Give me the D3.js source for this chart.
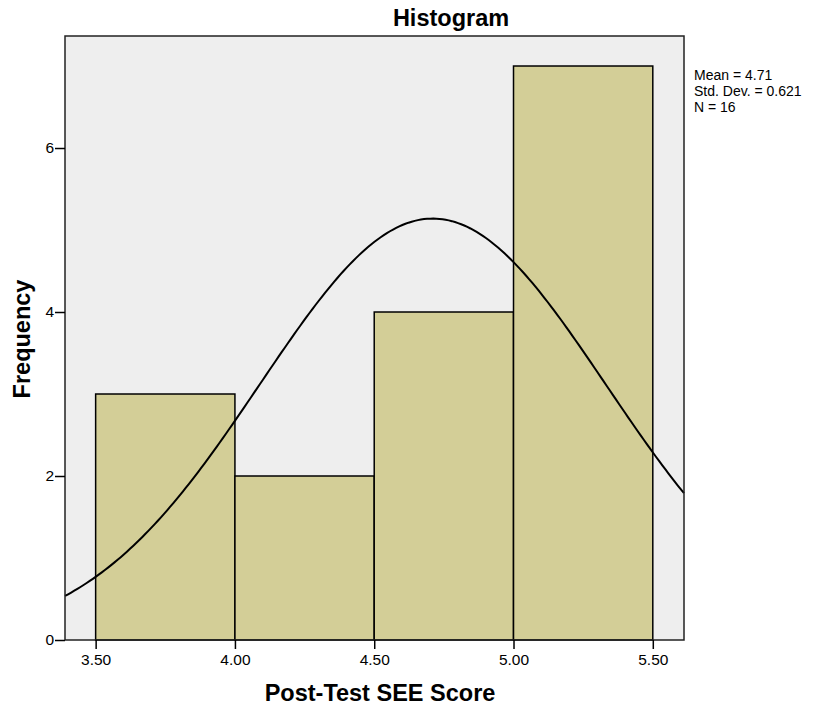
<!DOCTYPE html>
<html>
<head>
<meta charset="utf-8">
<script src="https://cdn.jsdelivr.net/npm/d3@7"></script>
<style>
  body { margin: 0; background: #fff; }
  text { font-family: "Liberation Sans", Arial, sans-serif; }
</style>
</head>
<body>
<div id="chart"></div>
<script>
// bins of the histogram
var binStarts = [3.5, 4.0, 4.5, 5.0]
var binWidth = 0.5
var counts = [3, 2, 4, 7]

var xTicks = [3.5, 4.0, 4.5, 5.0, 5.5]
var yTicks = [0, 2, 4, 6]

// summary stats shown at right
var mean = 4.71
var stdDev = 0.621
var n = 16

var margin = { top: 36, left: 65, right: 133, bottom: 67 }
var width = 817 - margin.left - margin.right
var height = 707 - margin.top - margin.bottom

var svg = d3
  .select('#chart')
  .append('svg')
  .attr('width', 817)
  .attr('height', 707)

var g = svg
  .append('g')
  .attr('transform', 'translate(' + margin.left + ',' + margin.top + ')')

var xPositionScale = d3.scaleLinear().domain([3.39, 5.612]).range([0, width])
var yPositionScale = d3.scaleLinear().domain([0, 7.366]).range([height, 0])

// plot background
g.append('rect')
  .attr('width', width)
  .attr('height', height)
  .attr('fill', '#eeeeee')

// bars
g.selectAll('.bar')
  .data(counts)
  .enter()
  .append('rect')
  .attr('class', 'bar')
  .attr('x', (d, i) => xPositionScale(binStarts[i]))
  .attr('y', d => yPositionScale(d))
  .attr('width', (d, i) => xPositionScale(binStarts[i] + binWidth) - xPositionScale(binStarts[i]))
  .attr('height', d => height - yPositionScale(d))
  .attr('fill', '#d3ce97')
  .attr('stroke', '#000')
  .attr('stroke-width', 1.5)

// normal curve from mean / sd / N
var dom = xPositionScale.domain()
var curvePts = d3.range(0, 201).map(function(i) {
  var x = dom[0] + (dom[1] - dom[0]) * i / 200
  var z = (x - mean) / stdDev
  var y = n * binWidth / (stdDev * Math.sqrt(2 * Math.PI)) * Math.exp(-0.5 * z * z)
  return { x: x, y: y }
})

var line = d3
  .line()
  .x(d => xPositionScale(d.x))
  .y(d => yPositionScale(d.y))

g.append('path')
  .datum(curvePts)
  .attr('d', line)
  .attr('fill', 'none')
  .attr('stroke', '#000')
  .attr('stroke-width', 2)

// frame
g.append('rect')
  .attr('width', width)
  .attr('height', height)
  .attr('fill', 'none')
  .attr('stroke', '#222')
  .attr('stroke-width', 1.5)

var xAxis = d3
  .axisBottom(xPositionScale)
  .tickValues(xTicks)
  .tickFormat(d3.format('.2f'))
  .tickSize(9)
  .tickPadding(5)
g.append('g')
  .attr('class', 'axis x-axis')
  .attr('transform', 'translate(0,' + height + ')')
  .call(xAxis)

var yAxis = d3
  .axisLeft(yPositionScale)
  .tickValues(yTicks)
  .tickSize(10)
  .tickPadding(1)
g.append('g')
  .attr('class', 'axis y-axis')
  .call(yAxis)

svg.selectAll('.axis path').remove()
svg.selectAll('.axis line').attr('stroke', '#000').attr('stroke-width', 1.5)
svg.selectAll('.axis text')
  .attr('font-size', 15.5)
  .attr('font-family', '"Liberation Sans", Arial, sans-serif')
  .attr('fill', '#000')

// title
svg.append('text')
  .text('Histogram')
  .attr('x', 451)
  .attr('y', 26)
  .attr('text-anchor', 'middle')
  .attr('font-size', 23.5)
  .attr('font-weight', 'bold')

// axis titles
svg.append('text')
  .text('Post-Test SEE Score')
  .attr('x', 380)
  .attr('y', 701)
  .attr('text-anchor', 'middle')
  .attr('font-size', 23.5)
  .attr('font-weight', 'bold')

svg.append('text')
  .text('Frequency')
  .attr('transform', 'translate(30,339) rotate(-90)')
  .attr('text-anchor', 'middle')
  .attr('font-size', 23.5)
  .attr('font-weight', 'bold')

// stats box
var statLines = ['Mean = ' + mean, 'Std. Dev. = ' + stdDev, 'N = ' + n]
svg.selectAll('.stat')
  .data(statLines)
  .enter()
  .append('text')
  .attr('class', 'stat')
  .text(d => d)
  .attr('x', 694)
  .attr('y', (d, i) => 80 + i * 16)
  .attr('font-size', 14)
</script>
</body>
</html>
